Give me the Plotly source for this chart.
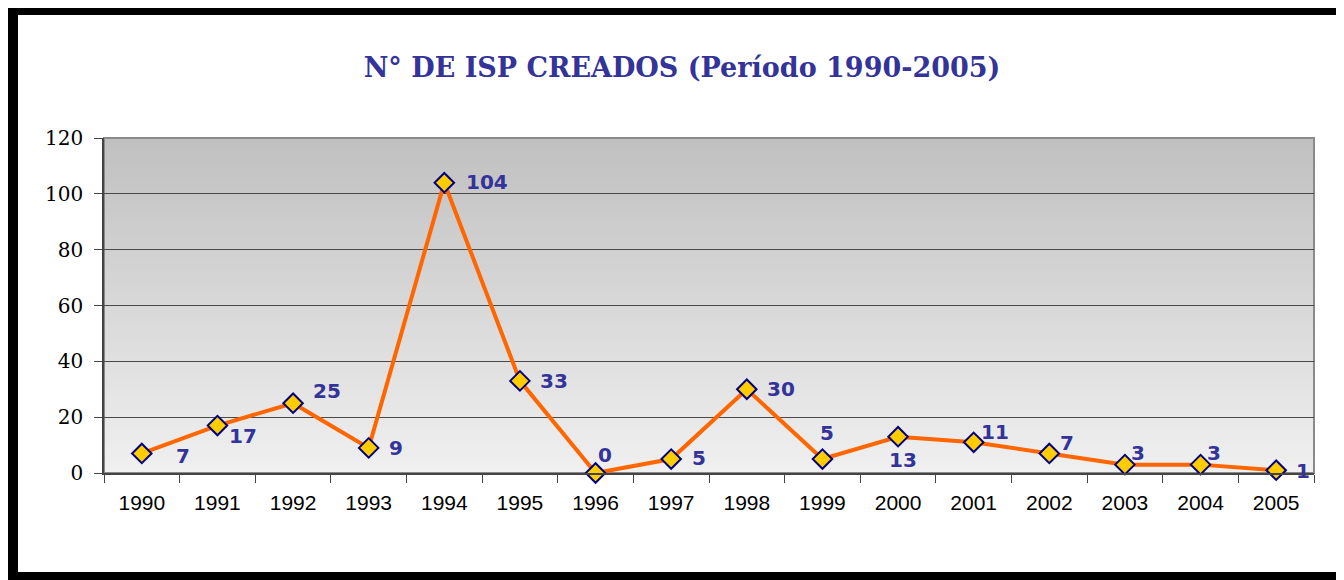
import plotly.graph_objects as go

years = ["1990", "1991", "1992", "1993", "1994", "1995", "1996", "1997",
         "1998", "1999", "2000", "2001", "2002", "2003", "2004", "2005"]
values = [7, 17, 25, 9, 104, 33, 0, 5, 30, 5, 13, 11, 7, 3, 3, 1]
y_ticks = [0, 20, 40, 60, 80, 100, 120]

title_text = "N° DE ISP CREADOS (Período 1990-2005)"

# label offsets (pixels) – styling only
label_dx = [41, 26, 34, 27, 43, 34, 9, 28, 34, 5, 5, 21, 18, 13, 13, 27]
label_dy = [-3, -10, 12, 0, 1, 0, 18, 1, 0, 26, -23, 10, 10, 12, 12, -1]

OFF = 8  # page body margin
W, H = 1344 - OFF, 580 - OFF
# plot area in screen pixels: x 104..1314, y 138..473
L, T = 104 - OFF, 138 - OFF
R = W - (1314 - OFF)
B = H - (473 - OFF)
PW, PH = W - L - R, H - T - B

def px_x(px):
    return (px - OFF - L) / PW

def px_y(py):
    return (H - B - (py - OFF)) / PH

fig = go.Figure()
fig.add_trace(go.Scatter(
    x=years, y=values, mode="lines+markers",
    line=dict(color="#FF6600", width=4),
    marker=dict(symbol="diamond", size=15, color="#FFCC00",
                line=dict(color="#000080", width=2)),
    cliponaxis=False, showlegend=False, hoverinfo="x+y",
))

annotations = []
for i, (v, dx, dy) in enumerate(zip(values, label_dx, label_dy)):
    annotations.append(dict(
        x=i, y=v, xref="x", yref="y", text=str(v), showarrow=False,
        xshift=dx, yshift=dy,
        font=dict(family="DejaVu Sans", size=20, color="#333399", weight="bold"),
    ))

shapes = []
# gradient background
N = 67
top = (0xC0, 0xC0, 0xC0)
bot = (0xF0, 0xF0, 0xF0)
for i in range(N):
    f = (i + 0.5) / N
    c = tuple(round(bot[k] + (top[k] - bot[k]) * f) for k in range(3))
    shapes.append(dict(type="rect", xref="paper", yref="paper",
                       x0=0, x1=1, y0=i / N, y1=(i + 1) / N,
                       fillcolor="rgb(%d,%d,%d)" % c, line=dict(width=0),
                       layer="below"))
# plot border (gray)
shapes.append(dict(type="rect", xref="paper", yref="paper", x0=0, x1=1, y0=0, y1=1,
                   line=dict(color="#8a8a8a", width=2), layer="below"))
# black outer frame
shapes.append(dict(type="rect", xref="paper", yref="paper",
                   x0=px_x(13), x1=px_x(1370), y0=px_y(577), y1=px_y(10),
                   line=dict(color="black", width=10), fillcolor="rgba(0,0,0,0)",
                   layer="above"))

fig.update_layout(
    width=W, height=H,
    margin=dict(l=L, r=R, t=T, b=B),
    paper_bgcolor="white", plot_bgcolor="rgba(0,0,0,0)",
    title=dict(text=title_text, x=(682 - OFF) / W, xanchor="center", xref="container",
               y=1 - (68 - OFF) / H, yanchor="middle", yref="container",
               font=dict(family="DejaVu Serif", size=27, color="#333399", weight="bold")),
    annotations=annotations, shapes=shapes,
    xaxis=dict(type="category", showgrid=False, ticks="outside", tickson="boundaries",
               ticklen=8, tickcolor="#444", showline=True, linecolor="#444", linewidth=1.5,
               tickfont=dict(family="Liberation Sans", size=21, color="black"),
               ticklabelstandoff=10,
               range=[-0.5, len(years) - 0.5], fixedrange=True),
    yaxis=dict(range=[0, 120], tickvals=y_ticks, showgrid=True, gridcolor="#4a4a4a",
               gridwidth=1, ticks="outside", ticklen=8, tickcolor="#444",
               showline=True, linecolor="#444", linewidth=1.5, zeroline=False,
               tickfont=dict(family="DejaVu Serif", size=20, color="black"),
               ticklabelstandoff=7,
               fixedrange=True),
)

fig.write_html("out.html")
